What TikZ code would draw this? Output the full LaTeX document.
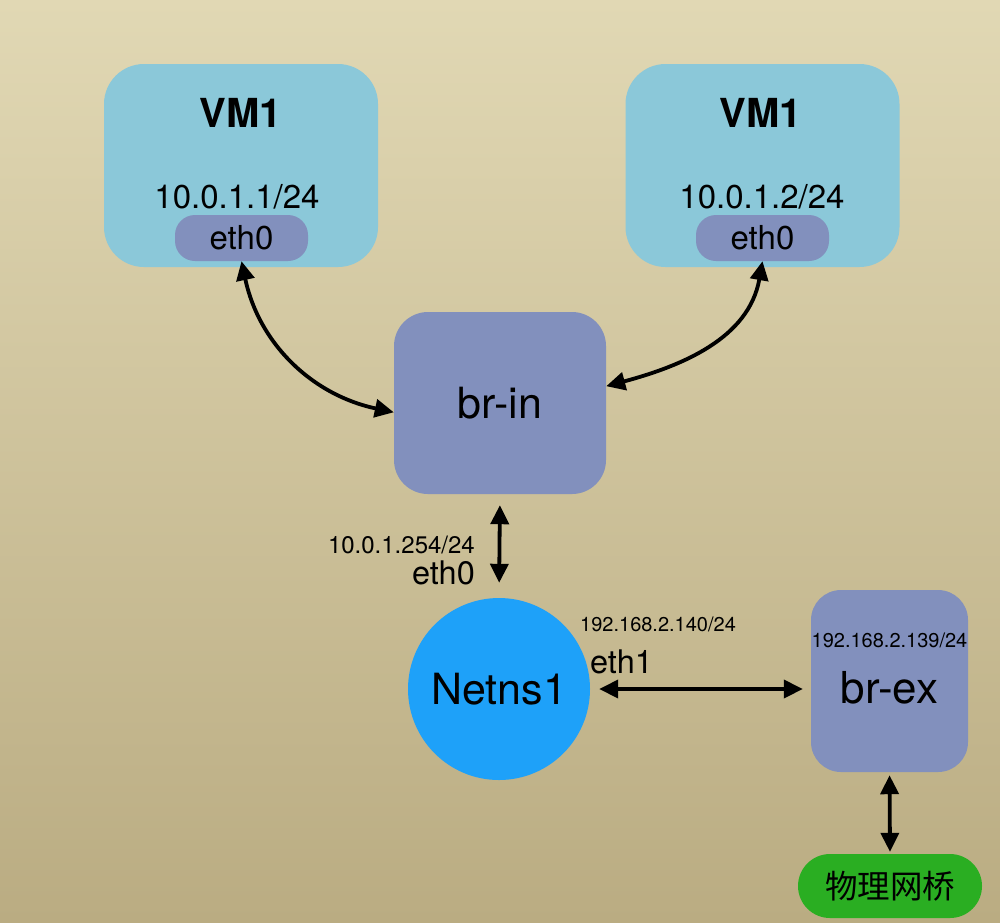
\documentclass[tikz,border=0pt]{standalone}
\usepackage{fontspec}
\setmainfont{TeX Gyre Heros}
\newfontfamily\cjk{Noto Sans CJK SC}
\usetikzlibrary{arrows.meta}

\definecolor{bgtop}{RGB}{225,216,180}
\definecolor{bgbot}{RGB}{186,172,130}
\definecolor{vmblue}{RGB}{139,200,217}
\definecolor{purple}{RGB}{130,144,189}
\definecolor{nsblue}{RGB}{30,161,249}
\definecolor{green}{RGB}{42,174,34}

\newcommand{\fs}[1]{\fontsize{#1}{#1}\selectfont}

\tikzset{
    vmbox/.style={fill=vmblue, rounded corners=40pt, minimum width=274pt, minimum height=203pt},
    ethpill/.style={fill=purple, rounded corners=20pt, minimum width=133pt, minimum height=46pt, font=\fs{33}},
    bridge/.style={fill=purple, rounded corners=34pt, font=\fs{43}},
    lbl/.style={inner sep=0pt},
    biarrow/.style={line width=3.8pt, {Triangle[length=19pt,width=18pt]}-{Triangle[length=19pt,width=18pt]}}
}

\begin{document}
\begin{tikzpicture}[x=1pt, y=-1pt]
    \useasboundingbox (0,0) rectangle (1000,922);
    \shade[top color=bgtop, bottom color=bgbot] (0,0) rectangle (1000,922);

    % 虚拟机
    \node[vmbox] (vma) at (241,165.5) {};
    \node[lbl, font=\bfseries\fs{40}] (vmatitle) at (241,113) {VM1};
    \node[lbl, font=\fs{33}] (vmaip) at (237,197) {10.0.1.1/24};
    \node[ethpill] (etha) at (241.5,238) {eth0};

    \node[vmbox] (vmb) at (762.5,165.5) {};
    \node[lbl, font=\bfseries\fs{40}] (vmbtitle) at (761,113) {VM1};
    \node[lbl, font=\fs{33}] (vmbip) at (762,197) {10.0.1.2/24};
    \node[ethpill] (ethb) at (762.5,238) {eth0};

    % 网桥
    \node[bridge, minimum width=212pt, minimum height=182pt] (brin) at (500,403) {br-in};
    \node[bridge, rounded corners=30pt, minimum width=157pt, minimum height=182pt] (brex) at (889.5,681) {};
    \node[lbl, font=\fs{44}] (brextext) at (889.5,688) {br-ex};
    \node[lbl, font=\fs{20}] (brexip) at (889.5,640) {192.168.2.139/24};

    % 命名空间
    \node[circle, fill=nsblue, minimum size=182pt, inner sep=0pt, font=\fs{43}] (netns) at (499,689) {Netns1};

    % 物理网桥
    \node[fill=green, rounded corners=32pt, minimum width=184pt, minimum height=64pt, font=\cjk\fs{32.5}] (phy) at (890,886) {物理网桥};

    % 接口标签
    \node[lbl, anchor=east, font=\fs{24}] (nsip0) at (475,545) {10.0.1.254/24};
    \node[lbl, anchor=east, font=\fs{32.5}] (nseth0) at (475,573) {eth0};
    \node[lbl, anchor=west, font=\fs{20}] (nsip1) at (580,624) {192.168.2.140/24};
    \node[lbl, anchor=west, font=\fs{32.5}] (nseth1) at (590,662) {eth1};

    % 连线
    \draw[biarrow] (etha.south) to[out=-78, in=168] (brin.185);
    \draw[biarrow] (ethb.south) to[out=-100, in=15] (brin.9);
    \draw[biarrow, shorten <=11pt, shorten >=15pt] (brin.south) -- (netns.north);
    \draw[biarrow, shorten <=9pt, shorten >=8pt] (netns.east) -- (netns.east -| brex.west);
    \draw[biarrow, shorten <=3pt, shorten >=2pt] (brex.south) -- (phy.north);
\end{tikzpicture}
\end{document}
